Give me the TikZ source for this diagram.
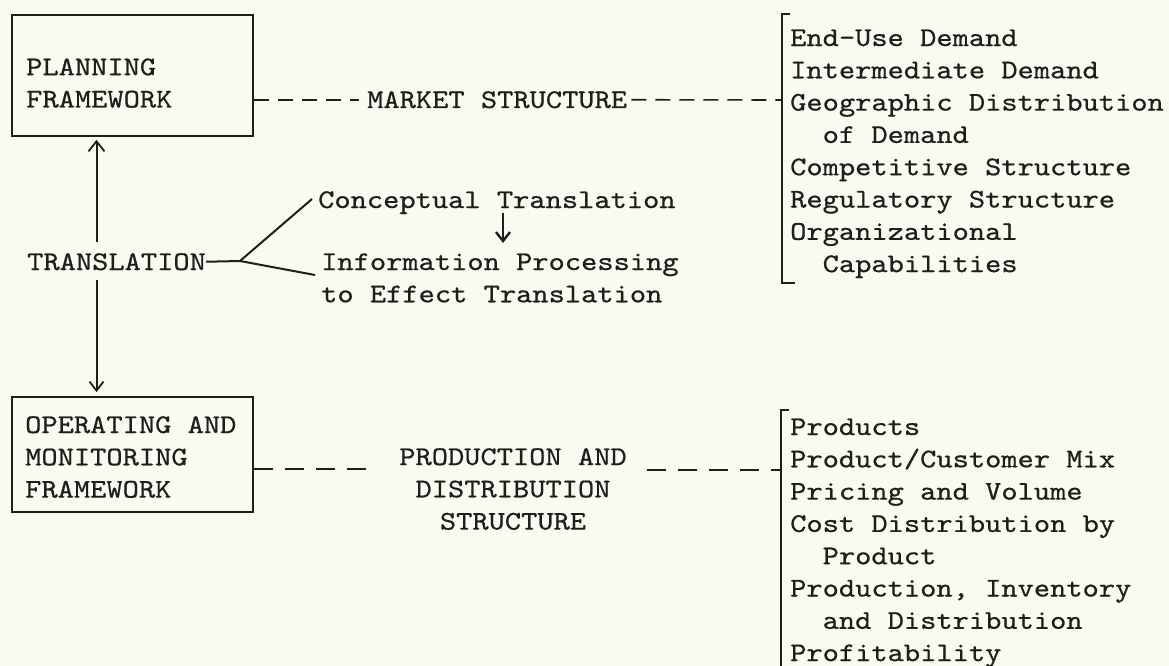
\documentclass[tikz,border=0pt]{standalone}
\usepackage{fontspec}
\usetikzlibrary{arrows.meta}
% typewriter face, widened to the pitch of the typed sheet
\newfontfamily\tw{lmmono10-regular.otf}[FakeStretch=1.146,FakeBold=0.6]
\definecolor{paper}{RGB}{249,250,240}
\definecolor{ink}{RGB}{30,30,28}
\begin{document}
\begin{tikzpicture}[x=1pt,y=-1pt,
  every node/.style={inner sep=0pt, text=ink, font=\tw\fontsize{27}{32.3}\selectfont},
  frame/.style={draw=ink, line width=1.8pt, minimum width=241pt, minimum height=121pt},
  link/.style={draw=ink, line width=2pt},
  brk/.style={draw=ink, line width=2pt},
  dashA/.style={draw=ink, line width=1.6pt, dash pattern=on 15pt off 9pt},
  dashB/.style={draw=ink, line width=1.6pt, dash pattern=on 19pt off 12pt},
  uparr/.style={link, -{Straight Barb[length=10pt,width=16pt,line width=1.8pt]}},
  dnarr/.style={link, -{Straight Barb[length=9pt,width=14pt,line width=1.8pt]}},
  cnarr/.style={draw=ink, line width=2.4pt, -{Straight Barb[length=9pt,width=14pt,line width=2.4pt]}}]
\fill[paper] (0,0) rectangle (1169,666);
\useasboundingbox (0,0) rectangle (1169,666);

% left column: the two frameworks and the translation between them
% (multi-line texts are placed by the baseline of their last line)
\node[frame] (plan) at (132.5,75.5) {};
\node[anchor=base west, align=left] (plantxt) at (26,107.5) {PLANNING\\FRAMEWORK};
\node[frame, minimum height=115pt] (oper) at (132.5,454.5) {};
\node[anchor=base west, align=left] (opertxt) at (25,497.6) {OPERATING AND\\MONITORING\\FRAMEWORK};
\node[anchor=base west] (trans) at (27,270) {TRANSLATION};

% the two steps of translation
\node[anchor=base west] (concept) at (318,208) {Conceptual Translation};
\node[anchor=base west, align=left] (info) at (321,302.3) {Information Processing\\to Effect Translation};

% structures linking the frameworks to their contents
\node[anchor=base west] (mkt) at (367,108) {MARKET STRUCTURE};
\node[anchor=base, align=center] (prod) at (513,529.6) {PRODUCTION AND\\DISTRIBUTION\\STRUCTURE};

% bracketed lists of contents
\node[anchor=base west, align=left] (mlist) at (790,272.1)
  {End-Use Demand\\Intermediate Demand\\Geographic Distribution\\\phantom{xx}of Demand\\Competitive Structure\\Regulatory Structure\\Organizational\\\phantom{xx}Capabilities};
\node[anchor=base west, align=left] (plist) at (790,661.1)
  {Products\\Product/Customer Mix\\Pricing and Volume\\Cost Distribution by\\\phantom{xx}Product\\Production, Inventory\\\phantom{xx}and Distribution\\Profitability};
\draw[brk] (790,14) -- (782,14) -- (782,283) -- (795,283);
\draw[brk] (789,410) -- (781,410) -- (781,670);

% named points for the connectors
\coordinate (ubr) at (782,100);
\coordinate (lbr) at (781,470);
\coordinate (ldash1) at (375,469);
\coordinate (ldash2) at (647,470);
\coordinate (ax) at (96.5,0);
\coordinate (dx) at (503,0);
\coordinate (fork) at (240,261);
\path (trans.north -| ax) coordinate (tn);
\path (trans.south -| ax) coordinate (ts);
\path (concept.base -| dx) coordinate (cb);

% dashed links
\draw[dashA, shorten >=8pt] (plan.east |- mkt.west) -- (mkt.west);
\draw[dashA, shorten <=4pt] (mkt.east) -- (ubr);
\draw[dashB] (oper.east |- ldash1) -- (ldash1);
\draw[dashB] (ldash2) -- (lbr);

% translation arrows
\draw[uparr, shorten >=3pt] ([yshift=11pt]tn) -- (plan.south -| ax);
\draw[dnarr, shorten >=4pt] ([yshift=-10pt]ts) -- (oper.north -| ax);
\draw[link] (trans.east) -- (fork) -- ([shift={(-6pt,9pt)}]concept.base west);
\draw[link] (fork) -- ([shift={(-6pt,27.3pt)}]info.base west);
\draw[cnarr] ([yshift=-5pt]cb) -- ([yshift=-35pt]cb);
\end{tikzpicture}
\end{document}
